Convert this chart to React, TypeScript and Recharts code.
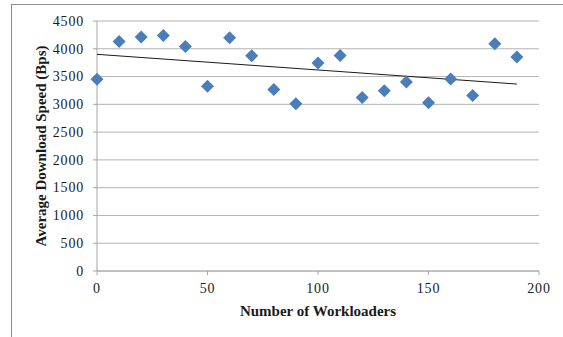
import React from "react";
import { ScatterChart, Scatter, XAxis, YAxis, CartesianGrid, Label } from "recharts";

const workloaders = [0, 10, 20, 30, 40, 50, 60, 70, 80, 90, 100, 110, 120, 130, 140, 150, 160, 170, 180, 190];
const speeds = [3450, 4130, 4210, 4240, 4040, 3325, 4200, 3875, 3265, 3010, 3745, 3880, 3125, 3245, 3400, 3030, 3455, 3160, 4090, 3850];
const trendX = [0, 190];
const trendY = [3900, 3365];
const xTicks = [0, 50, 100, 150, 200];
const yTicks = [0, 500, 1000, 1500, 2000, 2500, 3000, 3500, 4000, 4500];

const points = workloaders.map((x, i) => ({ x, y: speeds[i] }));
const trend = trendX.map((x, i) => ({ x, y: trendY[i] }));

const FONT = "'Liberation Serif', 'DejaVu Serif', serif";

const Diamond = (props: any) => {
  const { cx, cy } = props;
  if (cx == null || cy == null) return null;
  const r = 6.5;
  return (
    <path
      d={`M${cx},${cy - r} L${cx + r},${cy} L${cx},${cy + r} L${cx - r},${cy} Z`}
      fill="#4A7EBB"
    />
  );
};

const NoShape = () => null;

const XTick = (props: any) => {
  const { x, payload } = props;
  return (
    <text
      x={x}
      y={293}
      textAnchor="middle"
      fontFamily={FONT}
      fontSize={14}
      fill="#1a1a1a"
      letterSpacing={0.8}
    >
      {payload.value}
    </text>
  );
};

const YTick = (props: any) => {
  const { y, payload } = props;
  return (
    <text
      x={84}
      y={y + 4.8}
      textAnchor="end"
      fontFamily={FONT}
      fontSize={14}
      fill="#1a1a1a"
      letterSpacing={0.8}
    >
      {payload.value}
    </text>
  );
};

export default function App() {
  return (
    <div style={{ position: "absolute", left: 0, top: 0, width: 563, height: 337, background: "#fff" }}>
      <div
        style={{
          position: "absolute",
          left: 11,
          top: 4,
          width: 552,
          height: 333,
          borderTop: "1.5px solid #8c8c8c",
          borderLeft: "1.5px solid #8c8c8c",
        }}
      />
      <ScatterChart
        width={563}
        height={337}
        margin={{ top: 21, right: 24, left: 0, bottom: 0 }}
        style={{ position: "absolute", left: 0, top: 0, fontFamily: FONT }}
      >
        <CartesianGrid vertical={false} stroke="#b3b3b3" strokeWidth={1} />
        <XAxis
          type="number"
          dataKey="x"
          domain={[0, 200]}
          ticks={xTicks}
          height={66}
          axisLine={{ stroke: "#a6a6a6" }}
          tickLine={{ stroke: "#a6a6a6" }}
          tickSize={4}
          tick={<XTick />}
          interval={0}
        >
          <Label
            value="Number of Workloaders"
            position="center"
            dy={7}
            style={{ fontFamily: FONT, fontSize: 15, fontWeight: "bold", fill: "#1a1a1a" }}
          />
        </XAxis>
        <YAxis
          type="number"
          dataKey="y"
          domain={[0, 4500]}
          ticks={yTicks}
          width={97}
          axisLine={{ stroke: "#a6a6a6" }}
          tickLine={{ stroke: "#a6a6a6" }}
          tickSize={4}
          tick={<YTick />}
          interval={0}
        >
          <Label
            value="Average Download Speed (Bps)"
            angle={-90}
            position="center"
            dx={-8}
            style={{ fontFamily: FONT, fontSize: 15, fontWeight: "bold", fill: "#1a1a1a", textAnchor: "middle" }}
          />
        </YAxis>
        <Scatter
          data={trend}
          line={{ stroke: "#1a1a1a", strokeWidth: 1 }}
          shape={NoShape}
          isAnimationActive={false}
        />
        <Scatter data={points} shape={Diamond} isAnimationActive={false} />
      </ScatterChart>
    </div>
  );
}
